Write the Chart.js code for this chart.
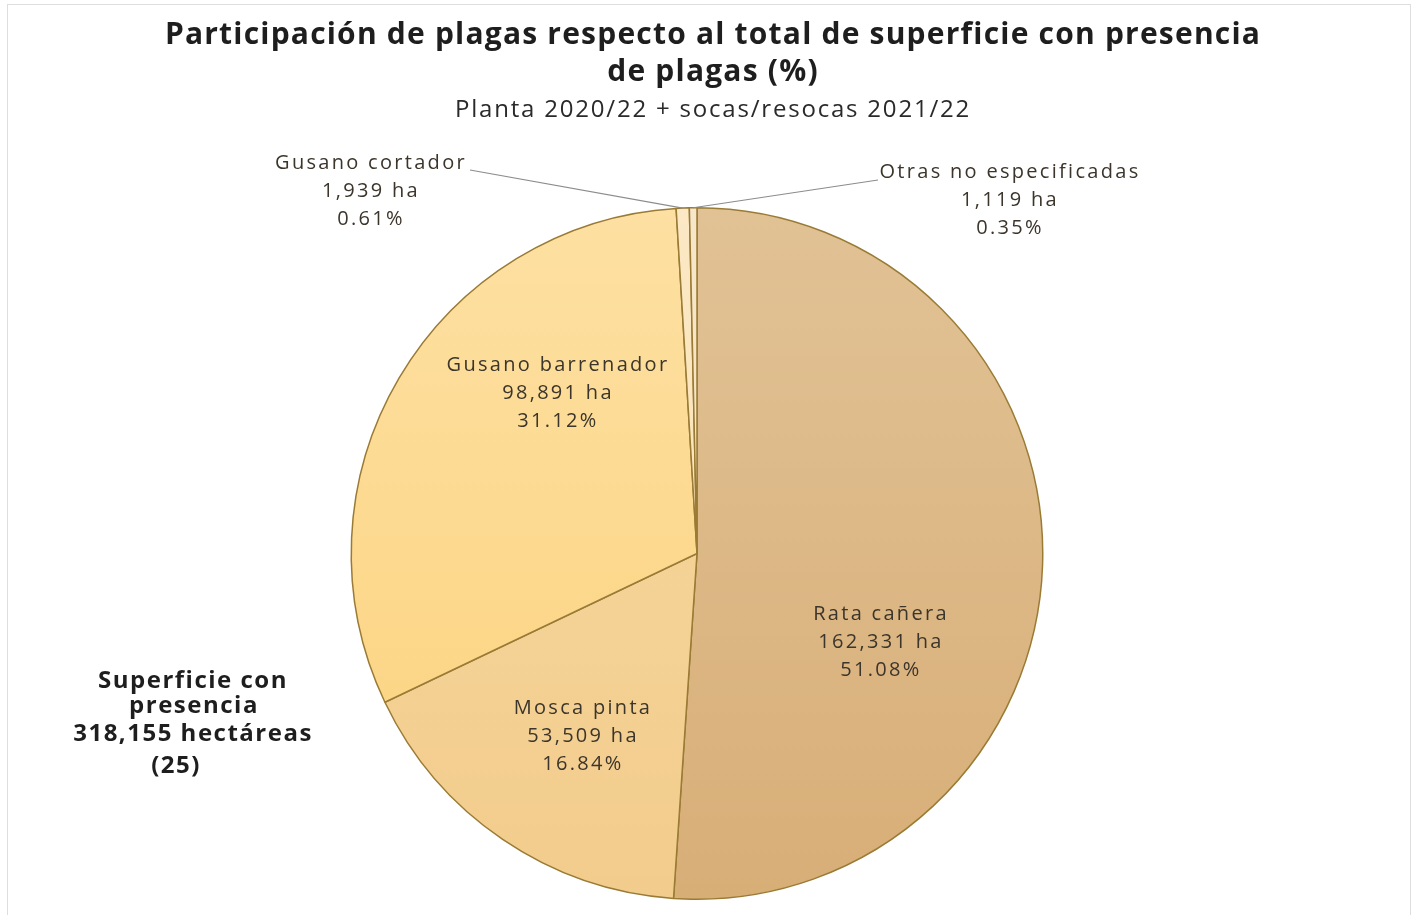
<!DOCTYPE html>
<html lang="es">
<head>
    <meta charset="utf-8">
    <title>Participación de plagas</title>
    <script src="https://cdn.jsdelivr.net/npm/chart.js@4.4.0/dist/chart.umd.min.js"></script>
    <style>
        html, body { margin: 0; padding: 0; background: #fff; }
        #frame { position: absolute; left: 7px; top: 4px; width: 1402px; height: 930px; border: 1px solid #dedede; }
        #chart { position: absolute; left: 0; top: 0; }
    </style>
</head>
<body>

<div id="frame"></div>
<canvas id="chart" width="1417" height="915"></canvas>

<script>
// datos
var plagas = ['Rata cañera', 'Mosca pinta', 'Gusano barrenador', 'Gusano cortador', 'Otras no especificadas'];
var hectareas = [162331, 53509, 98891, 1939, 1119];
var porcentajes = [51.08, 16.84, 31.12, 0.61, 0.35];

var titulo = ['Participación de plagas respecto al total de superficie con presencia', 'de plagas (%)'];
var subtitulo = 'Planta 2020/22 + socas/resocas 2021/22';
var notaTotal = ['Superficie con', 'presencia', '318,155 hectáreas', '(25)'];

// estilos
var coloresArriba = ['#e1c295', '#f7d9a2', '#fde0a2', '#fbe8c4', '#f7e7cb'];
var coloresAbajo  = ['#d8ae77', '#f2cc8c', '#fcd27c', '#f9dfae', '#f3dcb5'];
var borde = '#9a7b35';
var fuente = "'Open Sans', sans-serif";

// posicion de las etiquetas (x centro, y primera linea, x/y inicio de guia)
var etiquetas = [
    { x: 881, y: 614 },
    { x: 583, y: 708 },
    { x: 558, y: 365 },
    { x: 371, y: 163, gx: 470, gy: 170 },
    { x: 1010, y: 172, gx: 878, gy: 180 }
];

var degradado = function(context) {
    var chart = context.chart;
    var area = chart.chartArea;
    if (!area) return coloresArriba[context.dataIndex];
    var g = chart.ctx.createLinearGradient(0, area.top, 0, area.bottom);
    g.addColorStop(0, coloresArriba[context.dataIndex]);
    g.addColorStop(1, coloresAbajo[context.dataIndex]);
    return g;
};

var textos = {
    id: 'textos',
    afterDatasetsDraw: function(chart) {
        var ctx = chart.ctx;
        var arcs = chart.getDatasetMeta(0).data;
        ctx.save();
        ctx.textAlign = 'center';
        ctx.textBaseline = 'middle';

        // titulo
        ctx.fillStyle = '#1e1e1e';
        ctx.font = 'bold 30px ' + fuente;
        ctx.letterSpacing = '1.2px';
        ctx.fillText(titulo[0], 713, 35);
        ctx.fillText(titulo[1], 713, 72);
        ctx.font = '24px ' + fuente;
        ctx.letterSpacing = '1.8px';
        ctx.fillStyle = '#2a2a2a';
        ctx.fillText(subtitulo, 713, 110);

        // etiquetas
        ctx.font = '20px ' + fuente;
        ctx.letterSpacing = '2.3px';
        for (var i = 0; i < plagas.length; i++) {
            var e = etiquetas[i];
            ctx.fillStyle = '#3b352b';
            ctx.fillText(plagas[i], e.x, e.y);
            ctx.fillText(hectareas[i].toLocaleString('en-US') + ' ha', e.x, e.y + 28);
            ctx.fillText(porcentajes[i].toFixed(2) + '%', e.x, e.y + 56);
            if (e.gx !== undefined) {
                var a = arcs[i];
                var mid = (a.startAngle + a.endAngle) / 2;
                ctx.strokeStyle = '#8c8c8c';
                ctx.lineWidth = 1.2;
                ctx.beginPath();
                ctx.moveTo(e.gx, e.gy);
                ctx.lineTo(a.x + Math.cos(mid) * a.outerRadius, a.y + Math.sin(mid) * a.outerRadius);
                ctx.stroke();
            }
        }

        // total
        ctx.font = 'bold 24px ' + fuente;
        ctx.letterSpacing = '1.5px';
        ctx.fillStyle = '#1e1e1e';
        ctx.fillText(notaTotal[0], 193, 681);
        ctx.fillText(notaTotal[1], 194, 706);
        ctx.fillText(notaTotal[2], 193, 734);
        ctx.fillText(notaTotal[3], 176, 766);
        ctx.restore();
    }
};

var ctx = document.getElementById('chart').getContext('2d');
var myChart = new Chart(ctx, {
    type: 'pie',
    data: {
        labels: plagas,
        datasets: [{
            data: hectareas,
            backgroundColor: degradado,
            borderColor: borde,
            borderWidth: 1.5
        }]
    },
    options: {
        responsive: false,
        devicePixelRatio: 1,
        animation: false,
        layout: { padding: { left: 350, right: 373, top: 207, bottom: 15 } },
        plugins: {
            legend: { display: false },
            tooltip: { enabled: false }
        }
    },
    plugins: [textos]
});
</script>

</body>
</html>
